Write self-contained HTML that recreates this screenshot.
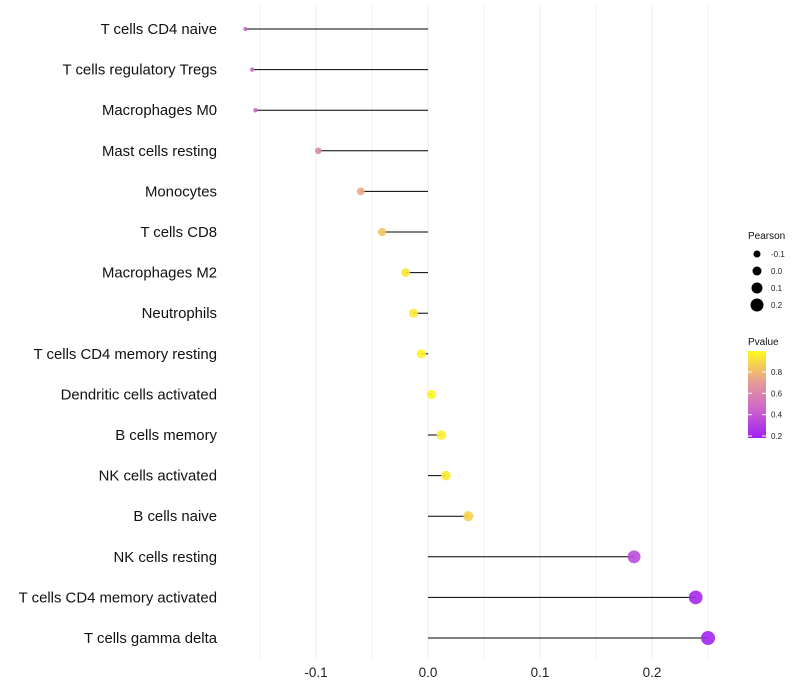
<!DOCTYPE html>
<html><head><meta charset="utf-8"><style>body{margin:0;background:#fff}svg{display:block;font-family:"Liberation Sans",sans-serif}</style></head>
<body>
<svg id="c" width="800" height="700"></svg>
<script>
const categories=["T cells CD4 naive","T cells regulatory  Tregs","Macrophages M0","Mast cells resting","Monocytes","T cells CD8","Macrophages M2","Neutrophils","T cells CD4 memory resting","Dendritic cells activated","B cells memory","NK cells activated","B cells naive","NK cells resting","T cells CD4 memory activated","T cells gamma delta"];
const pearson=[-0.163,-0.157,-0.154,-0.098,-0.060,-0.041,-0.020,-0.013,-0.006,0.003,0.012,0.016,0.036,0.184,0.239,0.250];
const pvalues=[0.42,0.45,0.45,0.62,0.75,0.85,0.94,0.95,0.98,0.99,0.97,0.95,0.88,0.35,0.22,0.2];
const xTicks=[-0.1,0,0.1,0.2];
const xTickLabels=["-0.1","0.0","0.1","0.2"];
const sizeTicks=[-0.1,0,0.1,0.2];
const pTicks=[0.2,0.4,0.6,0.8];
const NS="http://www.w3.org/2000/svg";
const svg=document.getElementById('c');
function mk(t,a,p){const e=document.createElementNS(NS,t);for(const k in a)e.setAttribute(k,a[k]);(p||svg).appendChild(e);return e;}
const x=v=>428+v*1120;
const y=i=>29+i*40.6;
const r=v=>Math.sqrt(Math.max(2,21.8+109*v));
const lr=v=>4+v*10;
function lerp(a,b,t){return Math.round(a+(b-a)*t);}
function col(p){const t=Math.max(0,Math.min(1,(p-0.18)/0.82));
 const s=[[160,32,240],[204,102,204],[232,160,144],[255,250,30]];
 const f=t*3,i=Math.min(2,Math.floor(f)),u=f-i;
 return `rgb(${lerp(s[i][0],s[i+1][0],u)},${lerp(s[i][1],s[i+1][1],u)},${lerp(s[i][2],s[i+1][2],u)})`;}
for(let v=-0.15;v<=0.26;v+=0.05){const g=mk('line',{x1:x(v),x2:x(v),y1:5,y2:660,stroke:'#ebebeb','stroke-width':Math.abs(Math.round(v*100)%10)<1?1:0.6});

}
xTicks.forEach((v,i)=>{const t=mk('text',{x:x(v),y:677,'text-anchor':'middle','font-size':13.5,fill:'#222'});t.textContent=xTickLabels[i];

});
categories.forEach((c,i)=>{
 const t=mk('text',{x:217,y:y(i)+5,'text-anchor':'end','font-size':14.9,fill:'#111'});t.textContent=c;
 
 
 const l=mk('line',{x1:x(0),x2:x(pearson[i]),y1:y(i),y2:y(i),stroke:'#000','stroke-width':1});
 
 
 const d=mk('circle',{cx:x(pearson[i]),cy:y(i),r:r(pearson[i]),fill:col(pvalues[i]),'fill-opacity':0.9});
 
 
});
const lt=mk('text',{x:748,y:239,'font-size':10,fill:'#111'});lt.textContent='Pearson';


sizeTicks.forEach((v,i)=>{const cy=254+i*17;
 const c=mk('circle',{cx:757,cy:cy,r:lr(v)+0.5,fill:'#000'});
 
 
 const t=mk('text',{x:771,y:cy+3,'font-size':8,fill:'#222'});t.textContent=v===0?'0.0':String(v);
 
 });
const pt=mk('text',{x:748,y:345,'font-size':10,fill:'#111'});pt.textContent='Pvalue';


const defs=mk('defs',{});const lg=mk('linearGradient',{id:'g',x1:0,y1:1,x2:0,y2:0},defs);
[0,0.33,0.66,1].forEach((o,i)=>mk('stop',{offset:o,'stop-color':col(0.18+o*0.82)},lg));
const bar=mk('rect',{x:748,y:351,width:18,height:87,fill:'url(#g)'});


const py=p=>436-(p-0.2)*(64/0.6);
pTicks.forEach(p=>{mk('line',{x1:748,x2:752,y1:py(p),y2:py(p),stroke:'#fff'});mk('line',{x1:762,x2:766,y1:py(p),y2:py(p),stroke:'#fff'});
 const t=mk('text',{x:771,y:py(p)+3,'font-size':8,fill:'#222'});t.textContent=p.toFixed(1);
 
 });
</script>
</body></html>
